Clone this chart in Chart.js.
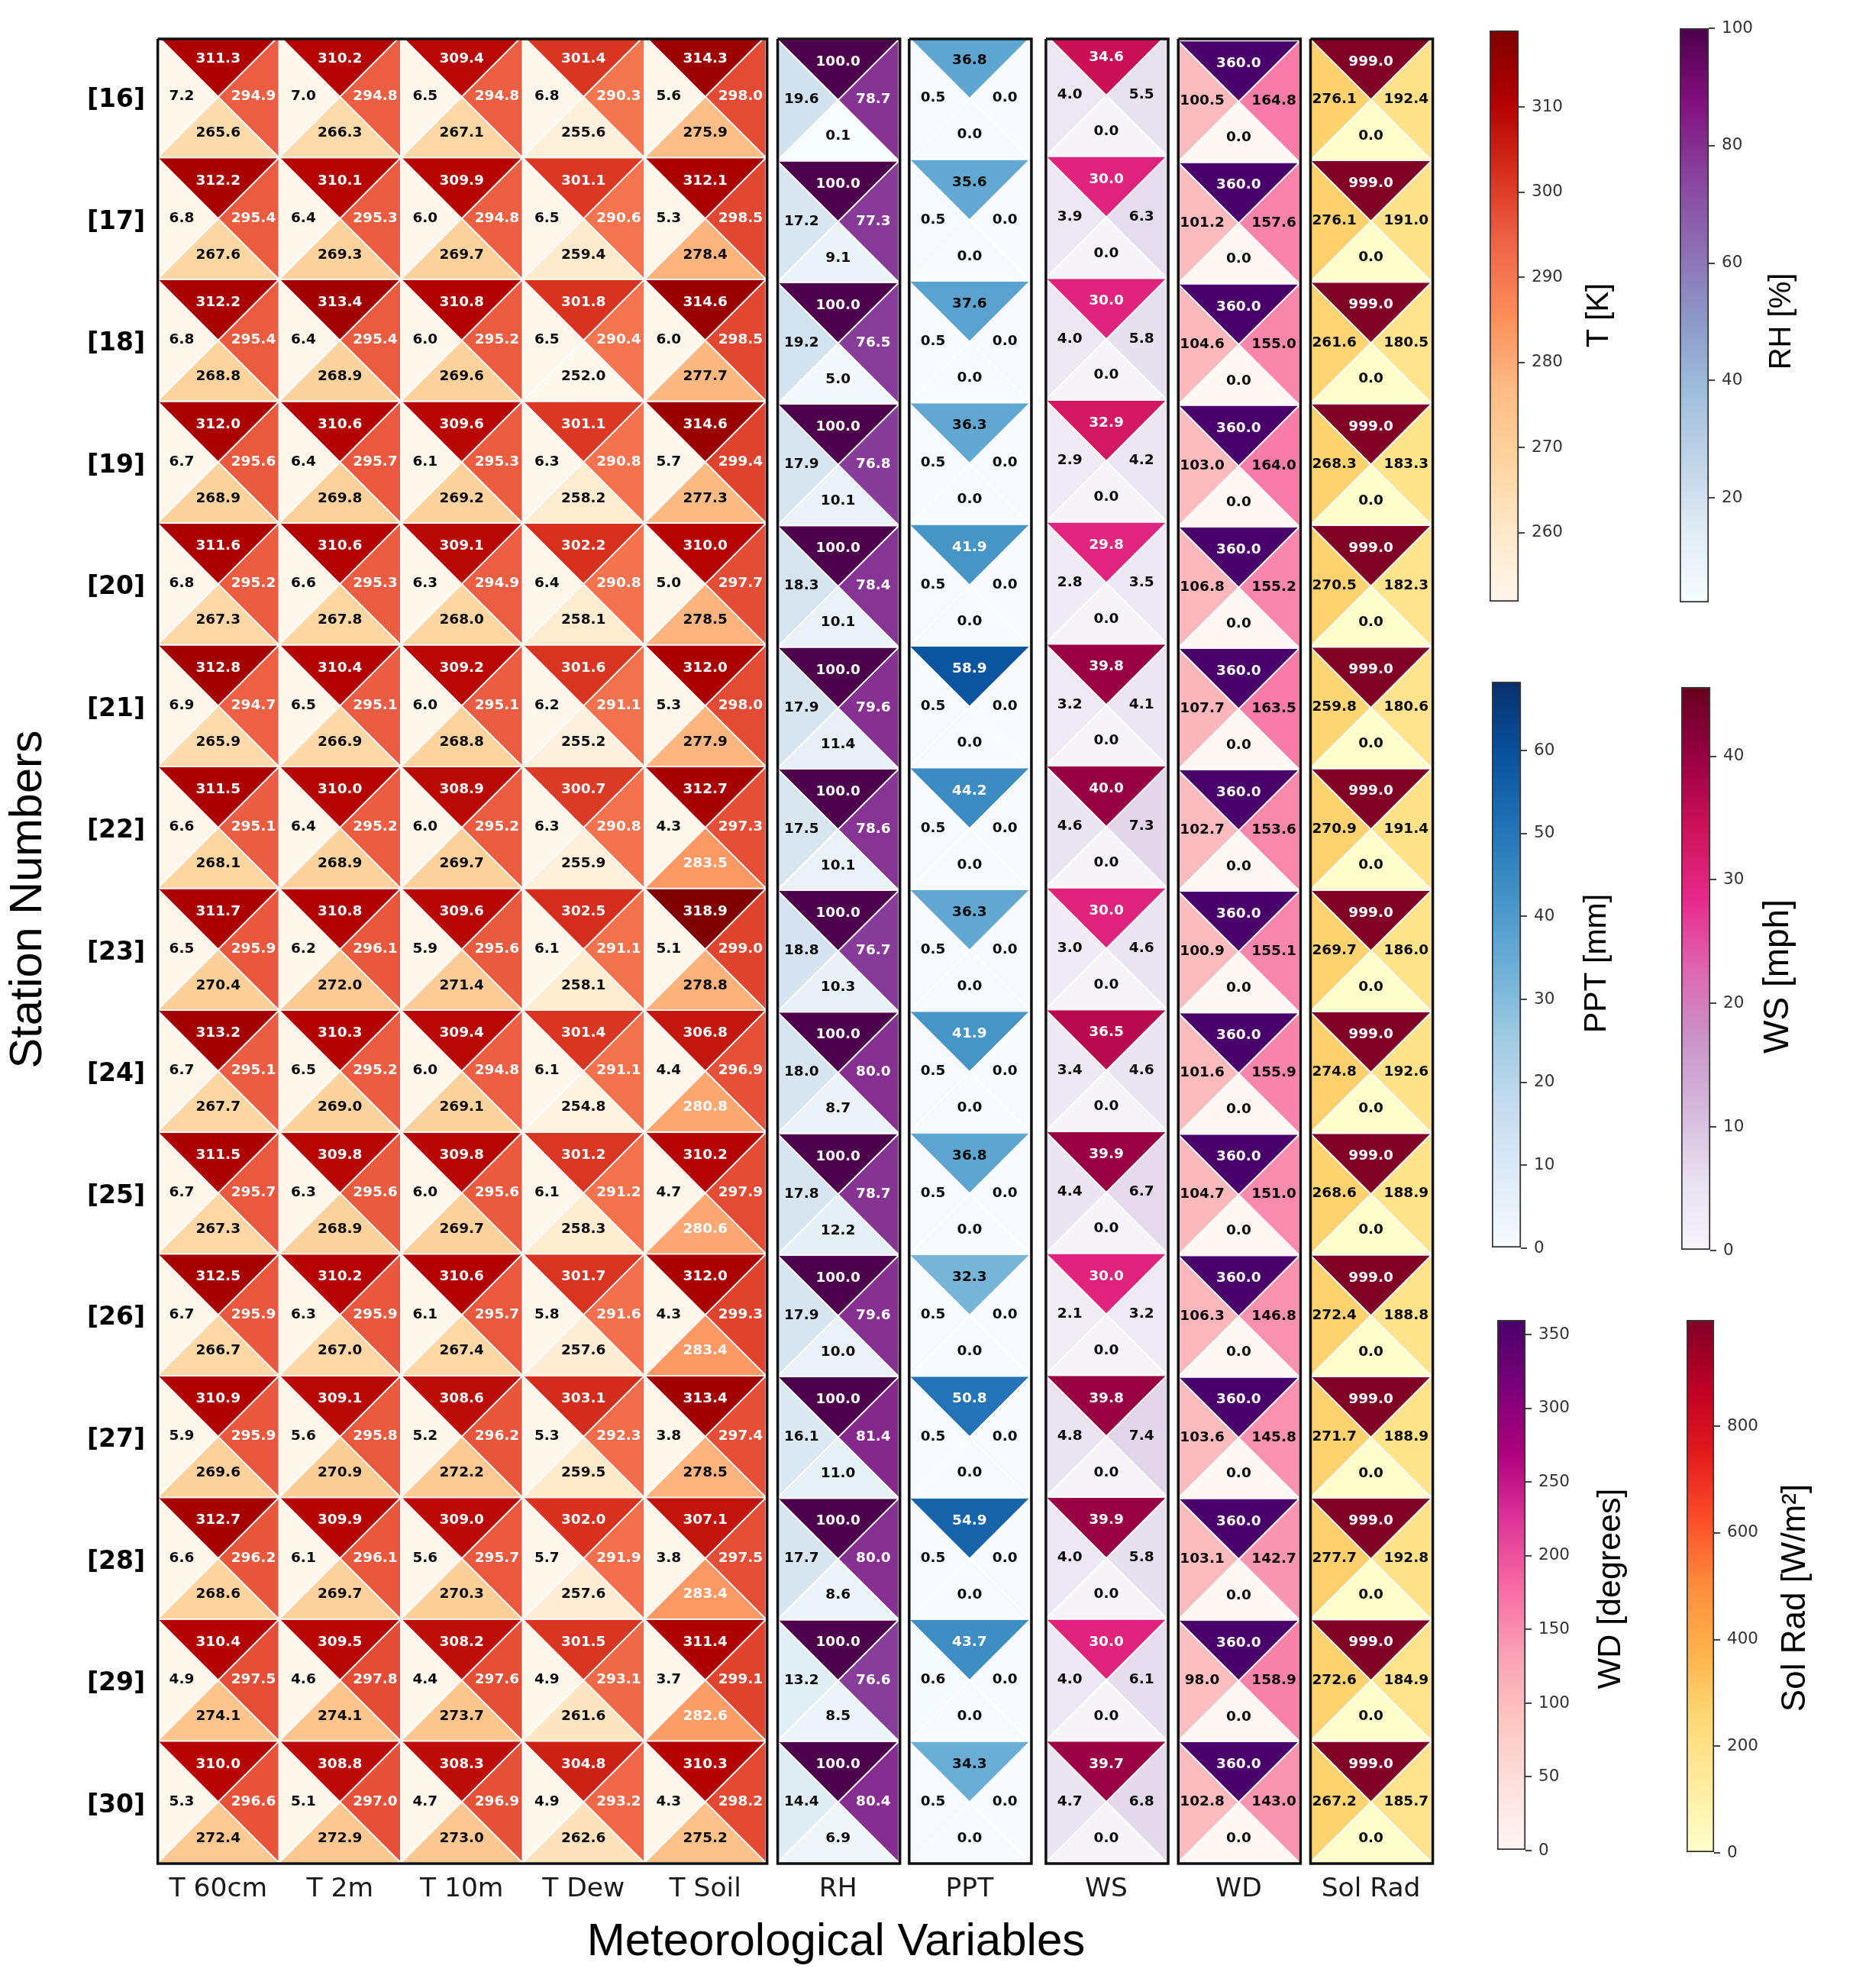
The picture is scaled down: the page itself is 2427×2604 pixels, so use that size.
<!DOCTYPE html>
<html>
<head>
<meta charset="utf-8">
<title>Station statistics</title>
<script src="https://cdn.jsdelivr.net/npm/chart.js@4"></script>
<style>
html, body { margin: 0; padding: 0; background: #fff; }
canvas { position: absolute; }
</style>
</head>
<body>
<canvas id="main" width="2427" height="2604" style="left:0;top:0"></canvas>
<script>
var stations = ['[16]','[17]','[18]','[19]','[20]','[21]','[22]','[23]','[24]','[25]','[26]','[27]','[28]','[29]','[30]'];
var colLabels = ['T 60cm','T 2m','T 10m','T Dew','T Soil','RH','PPT','WS','WD','Sol Rad'];

// each column: top = max, left = std, right = mean, bottom = min
var t60Max  = [311.3,312.2,312.2,312.0,311.6,312.8,311.5,311.7,313.2,311.5,312.5,310.9,312.7,310.4,310.0];
var t60Std  = [7.2,6.8,6.8,6.7,6.8,6.9,6.6,6.5,6.7,6.7,6.7,5.9,6.6,4.9,5.3];
var t60Mean = [294.9,295.4,295.4,295.6,295.2,294.7,295.1,295.9,295.1,295.7,295.9,295.9,296.2,297.5,296.6];
var t60Min  = [265.6,267.6,268.8,268.9,267.3,265.9,268.1,270.4,267.7,267.3,266.7,269.6,268.6,274.1,272.4];

var t2Max  = [310.2,310.1,313.4,310.6,310.6,310.4,310.0,310.8,310.3,309.8,310.2,309.1,309.9,309.5,308.8];
var t2Std  = [7.0,6.4,6.4,6.4,6.6,6.5,6.4,6.2,6.5,6.3,6.3,5.6,6.1,4.6,5.1];
var t2Mean = [294.8,295.3,295.4,295.7,295.3,295.1,295.2,296.1,295.2,295.6,295.9,295.8,296.1,297.8,297.0];
var t2Min  = [266.3,269.3,268.9,269.8,267.8,266.9,268.9,272.0,269.0,268.9,267.0,270.9,269.7,274.1,272.9];

var t10Max  = [309.4,309.9,310.8,309.6,309.1,309.2,308.9,309.6,309.4,309.8,310.6,308.6,309.0,308.2,308.3];
var t10Std  = [6.5,6.0,6.0,6.1,6.3,6.0,6.0,5.9,6.0,6.0,6.1,5.2,5.6,4.4,4.7];
var t10Mean = [294.8,294.8,295.2,295.3,294.9,295.1,295.2,295.6,294.8,295.6,295.7,296.2,295.7,297.6,296.9];
var t10Min  = [267.1,269.7,269.6,269.2,268.0,268.8,269.7,271.4,269.1,269.7,267.4,272.2,270.3,273.7,273.0];

var tDewMax  = [301.4,301.1,301.8,301.1,302.2,301.6,300.7,302.5,301.4,301.2,301.7,303.1,302.0,301.5,304.8];
var tDewStd  = [6.8,6.5,6.5,6.3,6.4,6.2,6.3,6.1,6.1,6.1,5.8,5.3,5.7,4.9,4.9];
var tDewMean = [290.3,290.6,290.4,290.8,290.8,291.1,290.8,291.1,291.1,291.2,291.6,292.3,291.9,293.1,293.2];
var tDewMin  = [255.6,259.4,252.0,258.2,258.1,255.2,255.9,258.1,254.8,258.3,257.6,259.5,257.6,261.6,262.6];

var tSoilMax  = [314.3,312.1,314.6,314.6,310.0,312.0,312.7,318.9,306.8,310.2,312.0,313.4,307.1,311.4,310.3];
var tSoilStd  = [5.6,5.3,6.0,5.7,5.0,5.3,4.3,5.1,4.4,4.7,4.3,3.8,3.8,3.7,4.3];
var tSoilMean = [298.0,298.5,298.5,299.4,297.7,298.0,297.3,299.0,296.9,297.9,299.3,297.4,297.5,299.1,298.2];
var tSoilMin  = [275.9,278.4,277.7,277.3,278.5,277.9,283.5,278.8,280.8,280.6,283.4,278.5,283.4,282.6,275.2];

var rhMax  = [100.0,100.0,100.0,100.0,100.0,100.0,100.0,100.0,100.0,100.0,100.0,100.0,100.0,100.0,100.0];
var rhStd  = [19.6,17.2,19.2,17.9,18.3,17.9,17.5,18.8,18.0,17.8,17.9,16.1,17.7,13.2,14.4];
var rhMean = [78.7,77.3,76.5,76.8,78.4,79.6,78.6,76.7,80.0,78.7,79.6,81.4,80.0,76.6,80.4];
var rhMin  = [0.1,9.1,5.0,10.1,10.1,11.4,10.1,10.3,8.7,12.2,10.0,11.0,8.6,8.5,6.9];

var pptMax  = [36.8,35.6,37.6,36.3,41.9,58.9,44.2,36.3,41.9,36.8,32.3,50.8,54.9,43.7,34.3];
var pptStd  = [0.5,0.5,0.5,0.5,0.5,0.5,0.5,0.5,0.5,0.5,0.5,0.5,0.5,0.6,0.5];
var pptMean = [0.0,0.0,0.0,0.0,0.0,0.0,0.0,0.0,0.0,0.0,0.0,0.0,0.0,0.0,0.0];
var pptMin  = [0.0,0.0,0.0,0.0,0.0,0.0,0.0,0.0,0.0,0.0,0.0,0.0,0.0,0.0,0.0];

var wsMax  = [34.6,30.0,30.0,32.9,29.8,39.8,40.0,30.0,36.5,39.9,30.0,39.8,39.9,30.0,39.7];
var wsStd  = [4.0,3.9,4.0,2.9,2.8,3.2,4.6,3.0,3.4,4.4,2.1,4.8,4.0,4.0,4.7];
var wsMean = [5.5,6.3,5.8,4.2,3.5,4.1,7.3,4.6,4.6,6.7,3.2,7.4,5.8,6.1,6.8];
var wsMin  = [0.0,0.0,0.0,0.0,0.0,0.0,0.0,0.0,0.0,0.0,0.0,0.0,0.0,0.0,0.0];

var wdMax  = [360.0,360.0,360.0,360.0,360.0,360.0,360.0,360.0,360.0,360.0,360.0,360.0,360.0,360.0,360.0];
var wdStd  = [100.5,101.2,104.6,103.0,106.8,107.7,102.7,100.9,101.6,104.7,106.3,103.6,103.1,98.0,102.8];
var wdMean = [164.8,157.6,155.0,164.0,155.2,163.5,153.6,155.1,155.9,151.0,146.8,145.8,142.7,158.9,143.0];
var wdMin  = [0.0,0.0,0.0,0.0,0.0,0.0,0.0,0.0,0.0,0.0,0.0,0.0,0.0,0.0,0.0];

var solMax  = [999.0,999.0,999.0,999.0,999.0,999.0,999.0,999.0,999.0,999.0,999.0,999.0,999.0,999.0,999.0];
var solStd  = [276.1,276.1,261.6,268.3,270.5,259.8,270.9,269.7,274.8,268.6,272.4,271.7,277.7,272.6,267.2];
var solMean = [192.4,191.0,180.5,183.3,182.3,180.6,191.4,186.0,192.6,188.9,188.8,188.9,192.8,184.9,185.7];
var solMin  = [0.0,0.0,0.0,0.0,0.0,0.0,0.0,0.0,0.0,0.0,0.0,0.0,0.0,0.0,0.0];

var tTicks = [260,270,280,290,300,310];
var rhTicks = [20,40,60,80,100];
var pptTicks = [0,10,20,30,40,50,60];
var wsTicks = [0,10,20,30,40];
var wdTicks = [0,50,100,150,200,250,300,350];
var solTicks = [0,200,400,600,800];

var OrRd = ['#fff7ec','#fee8c8','#fdd49e','#fdbb84','#fc8d59','#ef6548','#d7301f','#b30000','#7f0000'];
var BuPu = ['#f7fcfd','#e0ecf4','#bfd3e6','#9ebcda','#8c96c6','#8c6bb1','#88419d','#810f7c','#4d004b'];
var Blues = ['#f7fbff','#deebf7','#c6dbef','#9ecae1','#6baed6','#4292c6','#2171b5','#08519c','#08306b'];
var PuRd = ['#f7f4f9','#e7e1ef','#d4b9da','#c994c7','#df65b0','#e7298a','#ce1256','#980043','#67001f'];
var RdPu = ['#fff7f3','#fde0dd','#fcc5c0','#fa9fb5','#f768a1','#dd3497','#ae017e','#7a0177','#49006a'];
var YlOrRd = ['#ffffcc','#ffeda0','#fed976','#feb24c','#fd8d3c','#fc4e2a','#e31a1c','#bd0026','#800026'];

// panels of the matrix, x in column units, top = shift of the first row edge
var panels = [
  { start: 0,     top: 0,      cmap: OrRd,   min: 251.9, max: 319,   cut: 280,
    cols: [[t60Max,t60Std,t60Mean,t60Min],[t2Max,t2Std,t2Mean,t2Min],[t10Max,t10Std,t10Mean,t10Min],[tDewMax,tDewStd,tDewMean,tDewMin],[tSoilMax,tSoilStd,tSoilMean,tSoilMin]] },
  { start: 5.091, top: 0.028,  cmap: BuPu,   min: 2.2,   max: 100,   cut: 50,  cols: [[rhMax,rhStd,rhMean,rhMin]] },
  { start: 6.171, top: 0.014,  cmap: Blues,  min: 0,     max: 68.3,  cut: 40,  cols: [[pptMax,pptStd,pptMean,pptMin]] },
  { start: 7.294, top: -0.012, cmap: PuRd,   min: 0,     max: 45.6,  cut: 25,  cols: [[wsMax,wsStd,wsMean,wsMin]] },
  { start: 8.381, top: 0.041,  cmap: RdPu,   min: 0,     max: 360,   cut: 180, cols: [[wdMax,wdStd,wdMean,wdMin]] },
  { start: 9.467, top: 0.025,  cmap: YlOrRd, min: 0,     max: 999,   cut: 500, cols: [[solMax,solStd,solMean,solMin]] }
];

function hexRgb(h) {
  return [parseInt(h.substr(1,2),16), parseInt(h.substr(3,2),16), parseInt(h.substr(5,2),16)];
}
function cmapColor(stops, t) {
  t = Math.max(0, Math.min(1, t));
  var p = t * (stops.length - 1), i = Math.min(Math.floor(p), stops.length - 2), f = p - i;
  var a = hexRgb(stops[i]), b = hexRgb(stops[i+1]);
  return 'rgb(' + Math.round(a[0]+(b[0]-a[0])*f) + ',' + Math.round(a[1]+(b[1]-a[1])*f) + ',' + Math.round(a[2]+(b[2]-a[2])*f) + ')';
}
function rowEdge(panel, r) {
  return panel.top + r * (15 - panel.top) / 15;
}

var datasets = [];
var cellTexts = [];
var xTickValues = [];

// frames go first so they are painted over the triangles
panels.forEach(function(panel) {
  var x0 = panel.start + 0.004, x1 = panel.start + panel.cols.length + 0.008;
  datasets.push({
    data: [{x:x0,y:0.026},{x:x1,y:0.026},{x:x1,y:15.006},{x:x0,y:15.006},{x:x0,y:0.026}],
    showLine: true, fill: false, clip: false, pointRadius: 0, borderColor: '#111', borderWidth: 3.5
  });
});

panels.forEach(function(panel) {
  panel.cols.forEach(function(col, c) {
    var xL = panel.start + c, xR = xL + 1, xC = xL + 0.5;
    xTickValues.push(xC);
    stations.forEach(function(s, r) {
      var yT = rowEdge(panel, r), yB = rowEdge(panel, r + 1), yC = (yT + yB) / 2;
      var shapes = [
        [{x:xL,y:yT},{x:xR,y:yT},{x:xC,y:yC},{x:xL,y:yT}],
        [{x:xL,y:yT},{x:xC,y:yC},{x:xL,y:yB},{x:xL,y:yT}],
        [{x:xR,y:yT},{x:xC,y:yC},{x:xR,y:yB},{x:xR,y:yT}],
        [{x:xL,y:yB},{x:xC,y:yC},{x:xR,y:yB},{x:xL,y:yB}]
      ];
      var textPos = [[0,-0.310],[-0.30,-0.002],[0.29,-0.002],[0,0.298]];
      shapes.forEach(function(pts, k) {
        var v = col[k][r];
        datasets.push({
          data: pts, showLine: true, fill: 'shape', pointRadius: 0, tension: 0,
          backgroundColor: cmapColor(panel.cmap, (v - panel.min) / (panel.max - panel.min)),
          borderColor: '#fff', borderWidth: 1.8
        });
        cellTexts.push({ x: xC + textPos[k][0], y: yC + textPos[k][1], text: v.toFixed(1), color: v >= panel.cut ? '#fff' : '#0a0a0a' });
      });
    });
  });
});

// axis captions sit off-centre, placed by hand
var captions = [
  { text: 'Meteorological Variables', x: 1095, y: 2544, size: 60, rot: 0 },
  { text: 'Station Numbers', x: 38, y: 1178, size: 59.5, rot: -90 },
  { text: 'T [K]', x: 2095, y: 413, size: 40, rot: -90 },
  { text: 'RH [%]', x: 2334, y: 421, size: 40, rot: -90 },
  { text: 'PPT [mm]', x: 2092, y: 1262, size: 41, rot: -90 },
  { text: 'WS [mph]', x: 2329, y: 1279, size: 46, rot: -90 },
  { text: 'WD [degrees]', x: 2110, y: 2081, size: 43, rot: -90 },
  { text: 'Sol Rad [W/m\u00b2]', x: 2352, y: 2093, size: 44, rot: -90 }
];

var cellLabelPlugin = {
  id: 'cellLabels',
  afterDatasetsDraw: function(chart) {
    var ctx = chart.ctx, xs = chart.scales.x, ys = chart.scales.y;
    ctx.save();
    ctx.font = 'bold 18.5px "DejaVu Sans"';
    ctx.textAlign = 'center';
    ctx.textBaseline = 'middle';
    cellTexts.forEach(function(t) {
      ctx.fillStyle = t.color;
      ctx.fillText(t.text, xs.getPixelForValue(t.x), ys.getPixelForValue(t.y));
    });
    ctx.restore();
  },
  afterDraw: function(chart) {
    var ctx = chart.ctx;
    captions.forEach(function(c) {
      ctx.save();
      ctx.translate(c.x, c.y);
      ctx.rotate(c.rot * Math.PI / 180);
      ctx.font = c.size + 'px "Liberation Sans"';
      ctx.fillStyle = '#000';
      ctx.textAlign = 'center';
      ctx.textBaseline = 'middle';
      ctx.fillText(c.text, 0, 0);
      ctx.restore();
    });
  }
};

new Chart(document.getElementById('main'), {
  type: 'scatter',
  data: { datasets: datasets },
  plugins: [cellLabelPlugin],
  options: {
    responsive: false,
    devicePixelRatio: 1,
    animation: false,
    layout: { padding: { top: 51, right: 551.7, left: 0, bottom: 0 } },
    plugins: { legend: { display: false }, tooltip: { enabled: false }, filler: { propagate: false } },
    scales: {
      x: {
        type: 'linear', min: 0, max: 10.467, bounds: 'data',
        grid: { display: false, drawTicks: false }, border: { display: false },
        afterBuildTicks: function(s) { s.ticks = xTickValues.map(function(v) { return { value: v }; }); },
        afterFit: function(s) { s.height = 164; s.paddingLeft = 0; s.paddingRight = 0; },
        ticks: {
          autoSkip: false, minRotation: 0, maxRotation: 0, padding: 14, color: '#1a1a1a',
          font: { family: 'DejaVu Sans', size: 34.5 },
          callback: function(v, i) { return colLabels[i]; }
        }
      },
      y: {
        type: 'linear', reverse: true, min: 0.026, max: 15, bounds: 'data',
        grid: { display: false, drawTicks: false }, border: { display: false },
        afterBuildTicks: function(s) { s.ticks = stations.map(function(n, i) { return { value: i + 0.53 }; }); },
        afterFit: function(s) { s.width = 206; s.paddingTop = 0; s.paddingBottom = 0; },
        ticks: {
          autoSkip: false, padding: 16, color: '#000',
          font: { family: 'DejaVu Sans', size: 33, weight: 'bold' },
          callback: function(v, i) { return stations[i]; }
        }
      }
    }
  }
});

// colour bars
var bars = [
  { cmap: OrRd,   min: 251.9, max: 319,   ticks: tTicks,   left: 1951, top: 39.5, w: 38, h: 748 },
  { cmap: BuPu,   min: 2.2,   max: 100,   ticks: rhTicks,  left: 2200, top: 37,   w: 38, h: 752 },
  { cmap: Blues,  min: 0,     max: 68.3,  ticks: pptTicks, left: 1954, top: 893,  w: 38, h: 742 },
  { cmap: PuRd,   min: 0,     max: 45.6,  ticks: wsTicks,  left: 2202, top: 899.5, w: 38, h: 738 },
  { cmap: RdPu,   min: 0,     max: 360,   ticks: wdTicks,  left: 1961, top: 1729, w: 37, h: 695.5 },
  { cmap: YlOrRd, min: 0,     max: 999,   ticks: solTicks, left: 2209, top: 1729, w: 36, h: 698.5 }
];

bars.forEach(function(b) {
  var canvas = document.createElement('canvas');
  var pad = 20, axisW = 100;
  canvas.width = b.w + axisW;
  canvas.height = b.h + pad * 2;
  canvas.style.left = b.left + 'px';
  canvas.style.top = (b.top - pad) + 'px';
  document.body.appendChild(canvas);
  new Chart(canvas, {
    type: 'bar',
    data: {
      labels: [''],
      datasets: [{
        data: [[b.min, b.max]],
        barPercentage: 1, categoryPercentage: 1, clip: false,
        borderColor: '#333', borderWidth: 2, borderSkipped: false,
        backgroundColor: function(c) {
          var ch = c.chart;
          if (!ch.chartArea) return b.cmap[0];
          var g = ch.ctx.createLinearGradient(0, ch.chartArea.bottom, 0, ch.chartArea.top);
          b.cmap.forEach(function(col, i) { g.addColorStop(i / (b.cmap.length - 1), col); });
          return g;
        }
      }]
    },
    options: {
      responsive: false,
      devicePixelRatio: 1,
      animation: false,
      layout: { padding: { top: pad, bottom: pad } },
      plugins: { legend: { display: false }, tooltip: { enabled: false } },
      scales: {
        x: { display: false },
        y: {
          position: 'right', min: b.min, max: b.max, bounds: 'data',
          grid: { drawOnChartArea: false, tickLength: 8, tickColor: '#444', lineWidth: 2 },
          border: { display: false },
          afterBuildTicks: function(s) { s.ticks = b.ticks.map(function(v) { return { value: v }; }); },
          afterFit: function(s) { s.width = axisW; s.paddingTop = 0; s.paddingBottom = 0; },
          ticks: { autoSkip: false, padding: 9, color: '#333', font: { family: 'DejaVu Sans', size: 21.5 } }
        }
      }
    }
  });
});
</script>
</body>
</html>
